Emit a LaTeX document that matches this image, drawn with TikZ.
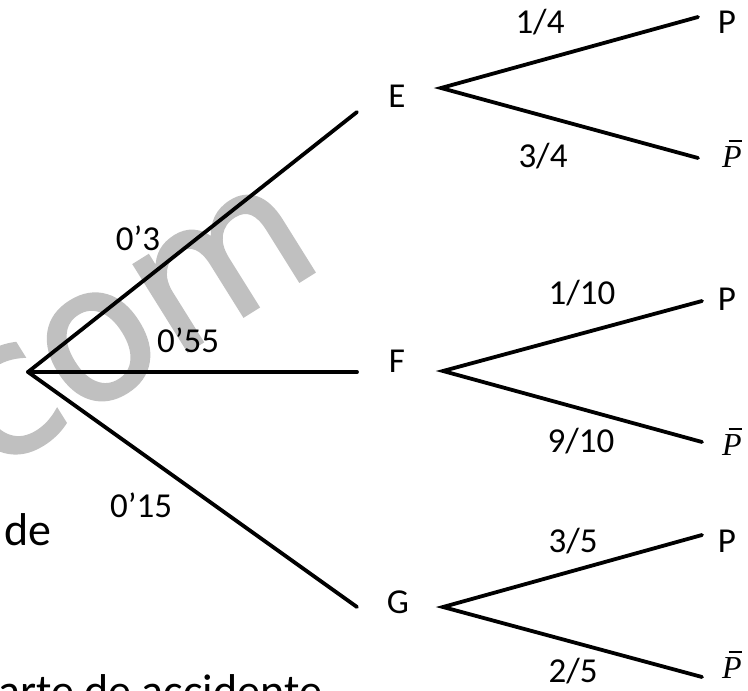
\documentclass[tikz,border=0pt]{standalone}
\usepackage{fontspec}
\setmainfont{Carlito}
\newfontfamily\wmfont[FakeBold=1.5]{DejaVu Sans}
\newfontfamily\seriffont{Liberation Serif}
\definecolor{wm}{RGB}{192,192,192}
\newcommand\Pbar{\makebox[0pt][l]{\hspace{0.2em}\rule[0.78em]{0.42em}{0.05em}}{\seriffont\itshape P}}
\begin{document}
\begin{tikzpicture}[x=1pt,y=-1pt,
  br/.style={line width=3.8pt, line cap=round},
  lab/.style={font=\fontsize{35}{40}\selectfont, inner sep=0pt, anchor=base},
  leaf/.style={font=\fontsize{35}{40}\selectfont, inner sep=0pt, anchor=base},
  pbar/.style={font=\fontsize{32}{40}\selectfont, inner sep=0pt, anchor=base},
  txt/.style={font=\fontsize{46}{52}\selectfont, inner sep=0pt, anchor=base west}]
\useasboundingbox (0,0) rectangle (748,691);
\clip (0,0) rectangle (748,691);
% watermark
\node[text=wm, font=\wmfont\fontsize{186}{186}\selectfont, rotate=32, inner sep=0pt] (wmark) at (132,326) {com};
% background text
\node[txt] (de) at (4,545) {de};
\node[txt] (bottom) at (-2,706) {arte de accidente};
% tree points
\coordinate (root) at (28,372);
\coordinate (eE) at (357,112);
\coordinate (eF) at (357,372);
\coordinate (eG) at (357,607);
\coordinate (aE) at (441,88);
\coordinate (aF) at (443,371);
\coordinate (aG) at (443,607);
\coordinate (EP) at (698,17);
\coordinate (EQ) at (698,158);
\coordinate (FP) at (702,301);
\coordinate (FQ) at (702,442);
\coordinate (GP) at (702,535);
\coordinate (GQ) at (702,677);
% letters
\node[leaf] (E) at (397,107) {E};
\node[leaf] (F) at (397,372) {F};
\node[leaf] (G) at (398,613) {G};
\node[leaf] (P1) at (727,33) {P};
\node[leaf] (P2) at (727,310) {P};
\node[leaf] (P3) at (727,552) {P};
\node[pbar] (Q1) at (732,167) {\Pbar};
\node[pbar] (Q2) at (732,455) {\Pbar};
\node[pbar] (Q3) at (732,678) {\Pbar};
% branches
\draw[br] (root) -- (eE);
\draw[br] (root) -- (eF);
\draw[br] (root) -- (eG);
\draw[br] (EP) -- (aE) -- (EQ);
\draw[br] (FP) -- (aF) -- (FQ);
\draw[br] (GP) -- (aG) -- (GQ);
% probabilities
\node[lab] (p1) at (138,250) {0’3};
\node[lab] (p2) at (188,352) {0’55};
\node[lab] (p3) at (141,517) {0’15};
\node[lab] (e1) at (540,33) {1/4};
\node[lab] (e2) at (543,167) {3/4};
\node[lab] (f1) at (582,304) {1/10};
\node[lab] (f2) at (581,452) {9/10};
\node[lab] (g1) at (573,552) {3/5};
\node[lab] (g2) at (573,682) {2/5};
\end{tikzpicture}
\end{document}
